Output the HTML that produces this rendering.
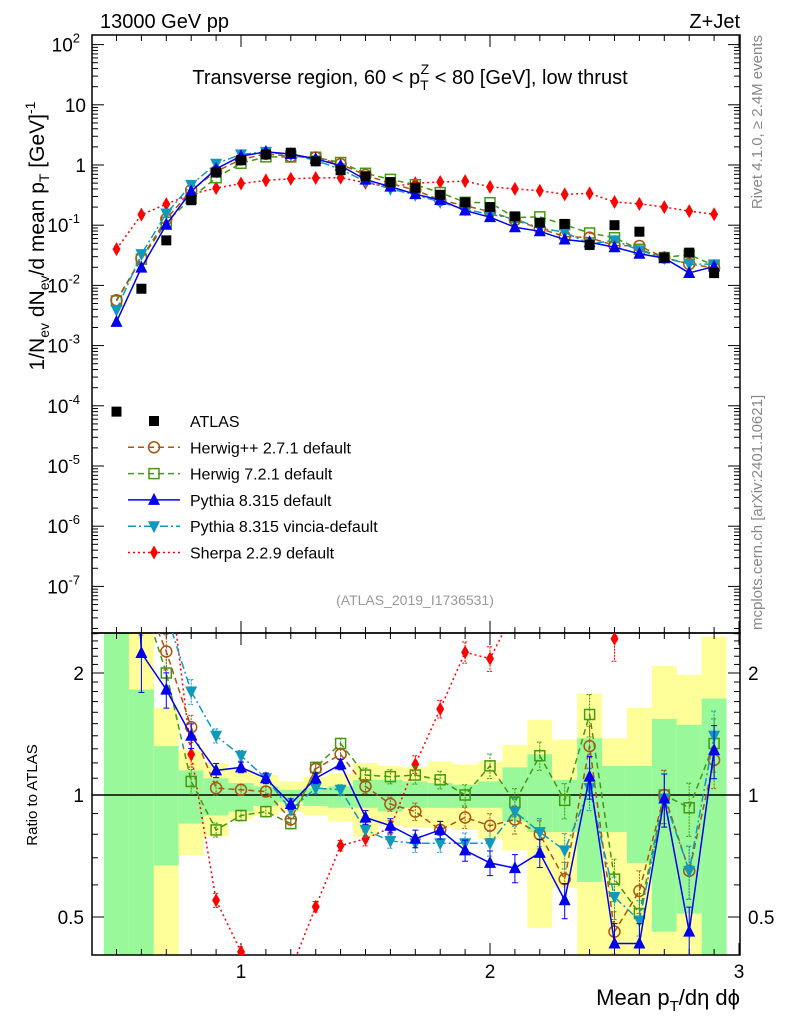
<!DOCTYPE html>
<html><head><meta charset="utf-8">
<style>
html,body{margin:0;padding:0;background:#fff;}
svg{display:block;font-family:"Liberation Sans",sans-serif;}
</style></head>
<body>
<svg id="c" width="786" height="1024" viewBox="0 0 786 1024" xmlns="http://www.w3.org/2000/svg">
<defs>
<clipPath id="clipMain"><rect x="92" y="35" width="648" height="598"/></clipPath>
<clipPath id="clipRatio"><rect x="92" y="633" width="648" height="322"/></clipPath>
</defs>
<text x="100" y="28" font-size="20">13000 GeV pp</text>
<text x="740" y="28" font-size="20" text-anchor="end">Z+Jet</text>
<text x="410" y="84" font-size="20" text-anchor="middle">Transverse region, 60 &lt; p<tspan font-size="14" dy="6">T</tspan><tspan font-size="14" dx="-8" dy="-16">Z</tspan><tspan dy="10"> &lt; 80 [GeV], low thrust</tspan></text>
<text transform="translate(44,236) rotate(-90)" font-size="21" text-anchor="middle">1/N<tspan font-size="14" dy="5">ev</tspan><tspan dy="-5"> dN</tspan><tspan font-size="14" dy="5">ev</tspan><tspan dy="-5">/d mean p</tspan><tspan font-size="14" dy="5">T</tspan><tspan dy="-5"> [GeV]</tspan><tspan font-size="14" dy="-9">-1</tspan></text>
<text transform="translate(37,795) rotate(-90)" font-size="15" text-anchor="middle">Ratio to ATLAS</text>
<text x="740" y="1005" font-size="22" text-anchor="end">Mean p<tspan font-size="15" dy="6">T</tspan><tspan dy="-6">/dη dϕ</tspan></text>
<text transform="translate(762,35) rotate(-90)" font-size="15" fill="#888" text-anchor="end">Rivet 4.1.0, ≥ 2.4M events</text>
<text transform="translate(762,630) rotate(-90)" font-size="15" fill="#888">mcplots.cern.ch [arXiv:2401.10621]</text>
<text x="415" y="605" font-size="14" fill="#999" text-anchor="middle">(ATLAS_2019_I1736531)</text>
<g id="g"></g>
</svg>
<script>
const bins = [0.5,0.6,0.7,0.8,0.9,1.0,1.1,1.2,1.3,1.4,1.5,1.6,1.7,1.8,1.9,2.0,2.1,2.2,2.3,2.4,2.5,2.6,2.7,2.8,2.9];
const atlas = [8e-5,0.0088,0.056,0.26,0.75,1.2,1.5,1.6,1.15,0.82,0.65,0.52,0.42,0.32,0.24,0.2,0.14,0.11,0.105,0.047,0.1,0.078,0.029,0.035,0.016];
const ratioHerwigPP = [71,3.2,2.26,1.47,1.04,1.03,1.02,0.87,1.16,1.26,1.05,0.95,0.91,0.82,0.88,0.84,0.87,0.80,0.62,1.32,0.46,0.58,1.0,0.65,1.22];
const ratioHerwig7 = [69,3.1,2.0,1.08,0.82,0.89,0.91,0.85,1.17,1.34,1.12,1.11,1.12,1.09,1.0,1.18,0.96,1.25,0.97,1.58,0.62,0.51,1.0,0.93,1.34];
const ratioPythia = [31,2.24,1.82,1.40,1.15,1.17,1.10,0.95,1.10,1.19,0.88,0.84,0.78,0.82,0.73,0.68,0.66,0.72,0.55,1.11,0.43,0.43,0.98,0.46,1.29];
const ratioVincia = [49,3.75,2.8,1.80,1.40,1.25,1.10,0.92,1.04,1.03,0.82,0.77,0.76,0.76,0.76,0.76,0.91,0.81,0.73,1.04,0.56,0.49,0.98,0.65,1.40];
const ratioSherpa = [500,17,4.0,1.26,0.55,0.41,0.37,0.37,0.53,0.75,0.78,0.83,1.19,1.63,2.25,2.17,2.86,3.4,3.1,7.2,2.43,2.9,6.9,4.9,9.5];
const mcRelErr = [0.5,0.2,0.1,0.07,0.04,0.03,0.03,0.03,0.03,0.03,0.04,0.04,0.05,0.05,0.06,0.07,0.08,0.08,0.10,0.12,0.12,0.12,0.15,0.15,0.15];
const statUp = [3,1.82,1.32,1.15,1.10,1.07,1.05,1.03,1.04,1.05,1.09,1.09,1.08,1.07,1.06,1.08,1.17,1.26,1.09,1.38,1.18,1.18,1.54,1.49,1.73];
const statDown = [0.3,0.3,0.67,0.85,0.89,0.91,0.94,0.96,0.94,0.93,0.93,0.91,0.93,0.93,0.93,0.93,0.86,0.81,0.81,0.61,0.81,0.68,0.46,0.51,0.3];
const totUp = [3,3,1.64,1.29,1.20,1.16,1.12,1.08,1.11,1.13,1.20,1.18,1.17,1.21,1.19,1.21,1.33,1.53,1.37,1.78,1.38,1.64,2.08,1.98,2.46];
const totDown = [0.3,0.3,0.3,0.71,0.79,0.87,0.89,0.91,0.89,0.86,0.79,0.84,0.83,0.83,0.82,0.78,0.73,0.47,0.59,0.3,0.3,0.3,0.3,0.3,0.3];
const yMainTicks = [2,1,0,-1,-2,-3,-4,-5,-6,-7];
const ratioTickLabels = [0.5,1,2];
const xTickLabels = [1,2,3];

const NS='http://www.w3.org/2000/svg';
const G=document.getElementById('g');
const X=v=>241+(v-1)*249;
const Ym=v=>165-Math.log10(v)*60.2;
const Yr=r=>795-Math.log2(r)*122;
const BW=0.05;
function el(tag,attrs,parent){const e=document.createElementNS(NS,tag);for(const k in attrs)e.setAttribute(k,attrs[k]);(parent||G).appendChild(e);return e;}

const bandG=el('g',{'clip-path':'url(#clipRatio)'});


bins.forEach((b,i)=>{
  const t=el('rect',{x:X(b-BW),width:X(b+BW)-X(b-BW),y:Yr(totUp[i]),height:Yr(totDown[i])-Yr(totUp[i]),fill:'#ffff99'},bandG);
  
  
  const s=el('rect',{x:X(b-BW),width:X(b+BW)-X(b-BW),y:Yr(statUp[i]),height:Yr(statDown[i])-Yr(statUp[i]),fill:'#99f899'},bandG);
  
  
});
const one=el('line',{x1:92,x2:740,y1:Yr(1),y2:Yr(1),stroke:'#000','stroke-width':1.5});



const fr1=el('rect',{x:92,y:35,width:648,height:598,fill:'none',stroke:'#000','stroke-width':1.5});


const fr2=el('rect',{x:92,y:633,width:648,height:322,fill:'none',stroke:'#000','stroke-width':1.5});


const tk=el('g',{stroke:'#000','stroke-width':1});


for(let d=-8;d<=2;d++){for(let m=1;m<=9;m++){const v=m*Math.pow(10,d);const y=Ym(v);if(y<35||y>633)continue;const L=m==1?12:6;
 el('line',{x1:92,x2:92+L,y1:y,y2:y},tk);el('line',{x1:740,x2:740-L,y1:y,y2:y},tk);}}
for(let v=0.4;v<=2.55;v+=0.1){const r=Math.round(v*10)/10;const y=Yr(r);if(y<633||y>955)continue;const L=(r==0.5||r==1||r==2)?12:6;
 el('line',{x1:92,x2:92+L,y1:y,y2:y},tk);el('line',{x1:740,x2:740-L,y1:y,y2:y},tk);}
for(let v=0.4;v<=3.001;v+=0.1){const r=Math.round(v*10)/10;const x=X(r);if(x<92)continue;const L=Math.abs(r-Math.round(r))<0.01?12:6;
 el('line',{x1:x,x2:x,y1:35,y2:35+L},tk);el('line',{x1:x,x2:x,y1:633,y2:633-L},tk);
 el('line',{x1:x,x2:x,y1:633,y2:633+L},tk);el('line',{x1:x,x2:x,y1:955,y2:955-L},tk);}
yMainTicks.forEach(d=>{
  const t=el('text',{x:d>=2||d<0?80:86,y:Ym(Math.pow(10,d))+7,'font-size':19,'text-anchor':'end'});
  
  
  if(d==0){t.textContent='1';t.setAttribute('x',86);}
  else if(d==1){t.textContent='10';t.setAttribute('x',86);}
  else{t.textContent='10';const s=el('tspan',{'font-size':13,dy:-9},t);s.textContent=String(d);}
});
ratioTickLabels.forEach(r=>{
  const a=el('text',{x:84,y:Yr(r)+7,'font-size':19,'text-anchor':'end'});a.textContent=String(r);
  
  
  const b=el('text',{x:748,y:Yr(r)+7,'font-size':19});b.textContent=String(r);
  
  
});
xTickLabels.forEach(v=>{
  const t=el('text',{x:X(v),y:978,'font-size':19,'text-anchor':'middle'});t.textContent=String(v);
  
  
});

function marker(type,x,y,color,parent){
  let m;
  if(type=='square')m=el('rect',{x:x-5,y:y-5,width:10,height:10,fill:color},parent);
  else if(type=='osquare')m=el('rect',{x:x-5,y:y-5,width:10,height:10,fill:'#fff','fill-opacity':0,stroke:color,'stroke-width':1.5},parent);
  else if(type=='ocircle')m=el('circle',{cx:x,cy:y,r:5.5,fill:'none',stroke:color,'stroke-width':1.5},parent);
  else if(type=='tri')m=el('polygon',{points:`${x},${y-7} ${x-6},${y+5} ${x+6},${y+5}`,fill:color},parent);
  else if(type=='itri')m=el('polygon',{points:`${x},${y+7} ${x-6},${y-5} ${x+6},${y-5}`,fill:color},parent);
  else m=el('polygon',{points:`${x},${y-7} ${x-4},${y} ${x},${y+7} ${x+4},${y}`,fill:color},parent);
  return m;
}
const series=[
 {name:'sherpa',r:ratioSherpa,c:'#ff0000',dash:'2,3',m:'diamond',label:'Sherpa 2.2.9 default'},
 {name:'herwig7',r:ratioHerwig7,c:'#449911',dash:'6,4',m:'osquare',label:'Herwig 7.2.1 default'},
 {name:'herwigpp',r:ratioHerwigPP,c:'#aa5511',dash:'6,4',m:'ocircle',label:'Herwig++ 2.7.1 default'},
 {name:'vincia',r:ratioVincia,c:'#1199bb',dash:'8,3,2,3',m:'itri',label:'Pythia 8.315 vincia-default'},
 {name:'pythia',r:ratioPythia,c:'#0000ee',dash:'',m:'tri',label:'Pythia 8.315 default'}
];
const mainG=el('g',{'clip-path':'url(#clipMain)'});


const ratG=el('g',{'clip-path':'url(#clipRatio)'});


series.forEach(s=>{
  const vals=bins.map((b,i)=>s.r[i]*atlas[i]);
  const gm=el('g',{},mainG);
  
  
  const p=el('polyline',{points:bins.map((b,i)=>X(b)+','+Ym(vals[i])).join(' '),fill:'none',stroke:s.c,'stroke-width':1.5,'stroke-dasharray':s.dash},gm);
  
  
  bins.forEach((b,i)=>{const mk=marker(s.m,X(b),Ym(vals[i]),s.c,gm);
    
    });
  const gr=el('g',{},ratG);
  
  
  const pr=el('polyline',{points:bins.map((b,i)=>X(b)+','+Yr(s.r[i])).join(' '),fill:'none',stroke:s.c,'stroke-width':1.5,'stroke-dasharray':s.dash},gr);
  
  
  bins.forEach((b,i)=>{
    const x=X(b),e=mcRelErr[i];
    const y1=Yr(s.r[i]*(1+e)),y2=Yr(s.r[i]*(1-e));
    const eb=el('path',{d:`M${x},${y1}V${y2}M${x-3},${y1}H${x+3}M${x-3},${y2}H${x+3}`,stroke:s.c,'stroke-width':1,'stroke-dasharray':s.dash?'2,1':''},gr);
    
    
    const mk=marker(s.m,x,Yr(s.r[i]),s.c,gr);
    
    
  });
});
const ga=el('g',{},mainG);


bins.forEach((b,i)=>{const mk=marker('square',X(b),Ym(atlas[i]),'#000',ga);
  
  });

const leg=el('g',{});


const legOrder=[{m:'square',c:'#000',dash:null,label:'ATLAS'},series[2],series[1],series[4],series[3],series[0]];
legOrder.forEach((s,k)=>{
  const y=421+k*26.3;
  const g=el('g',{},leg);
  
  
  if(s.dash!==null){el('line',{x1:128,x2:180,y1:y,y2:y,stroke:s.c,'stroke-width':1.5,'stroke-dasharray':s.dash},g);}
  marker(s.m,154,y,s.c,g);
  const t=el('text',{x:190,y:y+6,'font-size':16},g);t.textContent=s.label;
});
</script>
</body></html>
